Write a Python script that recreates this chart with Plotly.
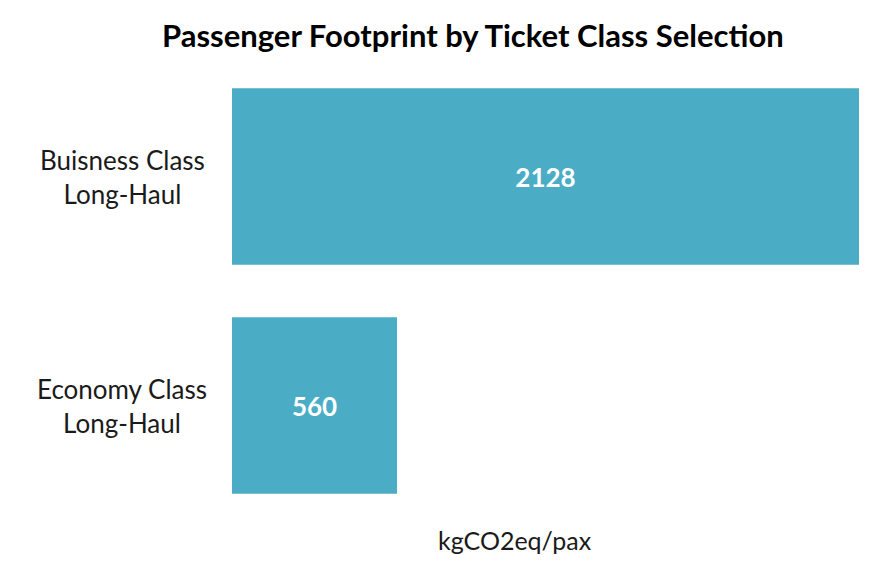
import plotly.graph_objects as go

categories = ["Buisness Class<br>Long-Haul", "Economy Class<br>Long-Haul"]
footprint = [2128, 560]
axis_label = "kgCO2eq/pax"
title = "Passenger Footprint by Ticket Class Selection"

FONT = "Lato, 'Open Sans', sans-serif"
BAR = "#4BACC6"

fig = go.Figure()
fig.add_trace(go.Bar(
    y=categories,
    x=footprint,
    orientation="h",
    marker=dict(color=BAR, line=dict(width=0)),
    text=[str(v) for v in footprint],
    textposition="inside",
    insidetextanchor="middle",
    textfont=dict(family=FONT, size=26, color="white", weight="bold"),
    width=0.77,
    hoverinfo="skip",
))

# category labels centred in two lines, like the original
for cat in categories:
    fig.add_annotation(
        x=-0.175, xref="paper", y=cat, yref="y",
        text=cat, showarrow=False, align="center",
        xanchor="center", yanchor="middle",
        font=dict(family=FONT, size=26, color="#1a1a1a"),
    )

fig.add_annotation(
    x=0.451, xref="paper", y=-0.043, yref="paper",
    text=axis_label, showarrow=False, yanchor="middle",
    font=dict(family=FONT, size=25, color="#1a1a1a"),
)

fig.update_layout(
    width=894, height=577,
    margin=dict(l=224, r=43, t=54, b=65),
    paper_bgcolor="white", plot_bgcolor="white",
    showlegend=False,
    title=dict(text="<b>" + title + "</b>", x=0.52, xanchor="center",
               y=0.951, yanchor="middle",
               font=dict(family=FONT, size=31, color="black")),
    bargap=0.23,
)
fig.update_xaxes(range=[0, 2128], showticklabels=False, showgrid=False,
                 zeroline=False, showline=False)
fig.update_yaxes(autorange="reversed", showticklabels=False, showgrid=False,
                 zeroline=False, showline=False)

fig.write_html("out.html")
